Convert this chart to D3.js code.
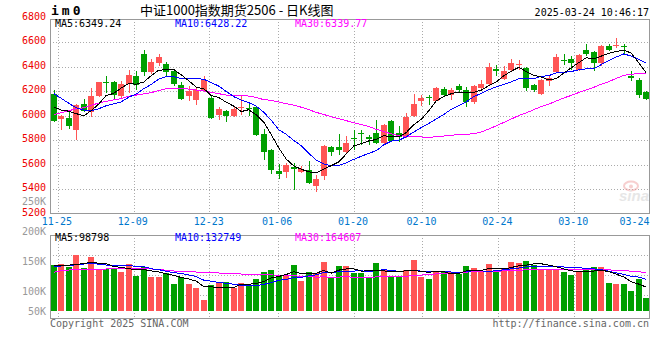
<!DOCTYPE html>
<html><head><meta charset="utf-8">
<script src="https://cdn.jsdelivr.net/npm/d3@7"></script>
<style>
html,body{margin:0;padding:0;background:#fff;}
svg{display:block;}
text{font-family:"DejaVu Sans Mono",monospace;}
</style></head><body>
<svg id="c" width="660" height="360"></svg>
<script>
// ---------------- data ----------------
const dates = [
"2024-11-22","2024-11-25","2024-11-26","2024-11-27","2024-11-28","2024-11-29",
"2024-12-02","2024-12-03","2024-12-04","2024-12-05","2024-12-06",
"2024-12-09","2024-12-10","2024-12-11","2024-12-12","2024-12-13",
"2024-12-16","2024-12-17","2024-12-18","2024-12-19","2024-12-20",
"2024-12-23","2024-12-24","2024-12-25","2024-12-26","2024-12-27",
"2024-12-30","2024-12-31","2025-01-02","2025-01-03",
"2025-01-06","2025-01-07","2025-01-08","2025-01-09","2025-01-10",
"2025-01-13","2025-01-14","2025-01-15","2025-01-16","2025-01-17",
"2025-01-20","2025-01-21","2025-01-22","2025-01-23","2025-01-24",
"2025-01-27","2025-02-05","2025-02-06","2025-02-07",
"2025-02-10","2025-02-11","2025-02-12","2025-02-13","2025-02-14",
"2025-02-17","2025-02-18","2025-02-19","2025-02-20","2025-02-21",
"2025-02-24","2025-02-25","2025-02-26","2025-02-27","2025-02-28",
"2025-03-03","2025-03-04","2025-03-05","2025-03-06","2025-03-07",
"2025-03-10","2025-03-11","2025-03-12","2025-03-13","2025-03-14",
"2025-03-17","2025-03-18","2025-03-19","2025-03-20","2025-03-21",
"2025-03-24"];

const open  = [6178,5972,5983,5885,6097,6026,6157,6276,6271,6157,6260,6325,6505,6352,6429,6423,6363,6252,6162,6129,
               6211,6143,6007,6040,5993,6059,6062,6070,5852,5721,5550,5537,5577,5537,5558,5428,5509,5740,5740,5700,
               5817,5855,5825,5857,5776,5953,5857,5825,5993,6116,6148,6121,6216,6171,6244,6211,6108,6225,6260,6382,
               6298,6374,6412,6388,6252,6179,6279,6352,6453,6461,6369,6532,6516,6429,6565,6565,6570,6325,6287,6189];
const high  = [6211,6005,6034,6097,6135,6225,6275,6325,6279,6279,6374,6361,6537,6461,6505,6440,6374,6271,6238,6233,
               6320,6157,6070,6048,6080,6157,6097,6081,5890,5727,5607,5613,5613,5591,5626,5518,5762,5749,5852,5836,
               5885,5885,5844,5966,5934,5961,5912,6021,6178,6170,6170,6233,6233,6225,6260,6233,6252,6293,6429,6415,
               6407,6461,6456,6396,6260,6298,6320,6505,6505,6483,6505,6586,6524,6578,6586,6633,6586,6361,6306,6197];
const low   = [5944,5879,5890,5798,6026,5985,6150,6184,6130,6143,6184,6211,6325,6339,6401,6325,6238,6124,6121,6089,
               6197,5972,5961,5944,5988,6007,5999,5836,5634,5526,5482,5490,5395,5531,5444,5374,5471,5672,5681,5694,
               5721,5762,5762,5770,5770,5784,5781,5817,5988,6081,6089,6116,6148,6129,6184,6070,6097,6197,6244,6325,
               6293,6352,6369,6197,6189,6170,6238,6347,6415,6369,6361,6483,6361,6407,6524,6551,6497,6279,6143,6130];
const close = [5953,5999,5912,6089,6034,6162,6271,6265,6170,6260,6333,6252,6352,6434,6478,6352,6260,6135,6197,6211,
               6293,5980,6056,5999,6056,6070,6056,5844,5700,5553,5526,5599,5564,5564,5449,5485,5754,5700,5716,5776,
               5812,5850,5808,5776,5925,5790,5825,5988,6097,6143,6140,6225,6171,6211,6211,6108,6244,6260,6396,6361,
               6361,6429,6418,6225,6211,6287,6306,6478,6448,6429,6497,6505,6429,6565,6537,6578,6560,6306,6170,6135];
const volume = [192400,197900,185300,234500,179800,226100,174300,174300,174300,164200,197900,147400,184000,143200,143200,160000,112400,140600,112400,96800,
                46300,106900,120800,120800,94300,117900,104000,134700,164200,171400,146100,146100,193700,126300,164200,157500,206300,136400,189500,189500,
                160000,157500,143200,202100,175600,147400,147400,171400,213500,143200,133500,167200,167200,162900,153300,189500,179800,164200,197900,164200,
                175600,206300,202100,210500,192400,176800,175600,171400,164200,150300,164200,171400,184000,184000,117900,112400,112400,82900,134700,53500];

// moving-average values before a full window exists
const ma5Head  = [6068,6045,6035,6015];
const ma10Head = [6180,6140,6100,6062,6045,6040,6055,6080,6095];
const ma30Head = [6007,6023,6040,6053,6064,6083,6102,6116,6127,6138,6157,6167,6176,6187,6203,6219,6222,6222,6216,6208,
                  6200,6189,6178,6167,6162,6162,6159,6148,6129];
const vma5Head  = [191000,190000,192000,195000];
const vma10Head = [185300,188200,189500,193700,196600,199600,195400,192400,189500];
const vma30Head = [161500,168600,171400,172800,174200,174200,174200,175600,175600,176800,178500,178500,176800,175600,174200,
                   170000,167200,165700,164200,162900,161500,160000,158700,157300,155900,154500,153100,151700,150300];

const priceTicks = [6800,6600,6400,6200,6000,5800,5600,5400,5200];
const volTickLabels = ["250K","200K","150K","100K","50K"];
const volTickValues = [250000,200000,150000,100000,50000];
const dateTicks = ["11-25","12-09","12-23","01-06","01-20","02-10","02-24","03-10","03-24"];

const titleText = "中证1000指数期货2506 - 日K线图";
const symbolText = "im0";
const timeText = "2025-03-24 10:46:17";
const priceLegend = [["MA5:6349.24","#000000"],["MA10:6428.22","#0000ff"],["MA30:6339.77","#ff00ff"]];
const volLegend = [["MA5:98798","#000000"],["MA10:132749","#0000ff"],["MA30:164607","#ff00ff"]];

// ---------------- layout ----------------
const L=50, R=650, pTop=19, pBot=213, vTop=235, vBot=318;
const RED="#ff5555", GREEN="#009f00", GRID="#aaaaaa", BORDER="#999999";

const svg = d3.select("#c");
svg.append("rect").attr("width",660).attr("height",360).attr("fill","#fff");

const x  = d3.scaleBand().domain(dates).range([L,R]);
const xc = d => x(d) + x.bandwidth()/2;
const gx = d3.scaleLinear().domain([0,dates.length-1]).range([L,R]);
const y  = d3.scaleLinear().domain([5200,6800]).range([213.5,17.5]);
const yv = d3.scaleLinear().domain([0,320000]).range([310.7,234.7]);
const yvLab = d3.scaleLinear().domain([50000,100000,250000]).range([311,291,201]);

function movingAvg(arr, n, head){
  return arr.map((v,i)=> i < n-1 ? head[i] : d3.mean(arr.slice(i-n+1,i+1)));
}
const ma5=movingAvg(close,5,ma5Head), ma10=movingAvg(close,10,ma10Head), ma30=movingAvg(close,30,ma30Head);
const vma5=movingAvg(volume,5,vma5Head), vma10=movingAvg(volume,10,vma10Head), vma30=movingAvg(volume,30,vma30Head);

const g = svg.append("g");

// grid
const tickIdx = dateTicks.map(t => dates.findIndex(d => d.slice(5)===t));
priceTicks.filter(v=>v>5200 && v<6800).forEach(v=>{
  const yy=Math.round(y(v))+0.5;
  g.append("line").attr("x1",L).attr("x2",R).attr("y1",yy).attr("y2",yy)
   .attr("stroke",GRID).attr("stroke-dasharray","1,2");
});
[1,2,3].forEach(k=>{
  const yy=vTop+20*k+0.5;
  g.append("line").attr("x1",L).attr("x2",R).attr("y1",yy).attr("y2",yy)
   .attr("stroke",GRID).attr("stroke-dasharray","1,2");
});
tickIdx.forEach(i=>{
  const xx=Math.round(gx(i))+0.5;
  if (xx>=R) return;
  g.append("line").attr("x1",xx).attr("x2",xx).attr("y1",pTop).attr("y2",pBot)
   .attr("stroke",GRID).attr("stroke-dasharray","1,2");
  g.append("line").attr("x1",xx).attr("x2",xx).attr("y1",vTop).attr("y2",vBot)
   .attr("stroke",GRID).attr("stroke-dasharray","1,2");
});

// watermark
const wm = g.append("g").attr("opacity",0.5);
wm.append("ellipse").attr("cx",631).attr("cy",186).attr("rx",7).attr("ry",4.5)
  .attr("fill","none").attr("stroke","#f0a0a0").attr("stroke-width",2);
wm.append("circle").attr("cx",631).attr("cy",186.5).attr("r",2).attr("fill","#f0a0a0");
wm.append("text").attr("x",649).attr("y",201).attr("text-anchor","end")
  .style("font-family","Arial, 'Liberation Sans', sans-serif").style("font-style","italic")
  .style("font-weight","bold").style("font-size","15px").attr("fill","#cfcfcf").text("sina");

// candles
const cg = g.append("g").attr("shape-rendering","crispEdges");
dates.forEach((d,i)=>{
  const up = close[i] >= open[i];
  const col = up ? RED : GREEN;
  const bx = Math.round(xc(d) - 3);
  cg.append("rect").attr("x",bx+3).attr("width",1)
    .attr("y",Math.round(y(high[i]))).attr("height",Math.max(1,Math.round(y(low[i]))-Math.round(y(high[i]))))
    .attr("fill",col);
  const t=Math.round(y(Math.max(open[i],close[i]))), b=Math.round(y(Math.min(open[i],close[i])));
  cg.append("rect").attr("x",bx).attr("width",6).attr("y",t).attr("height",Math.max(1,b-t)).attr("fill",col);
  // volume
  const vt=Math.round(yv(volume[i]));
  cg.append("rect").attr("x",bx).attr("width",6).attr("y",vt).attr("height",Math.round(yv(0))-vt).attr("fill",col);
});

// MA lines
const lineP = d3.line().x((v,i)=>xc(dates[i])).y(v=>y(v));
const lineV = d3.line().x((v,i)=>xc(dates[i])).y(v=>yv(v));
[[ma30,"#ff00ff"],[ma10,"#0000ff"],[ma5,"#000000"]].forEach(([s,c])=>{
  g.append("path").attr("d",lineP(s)).attr("fill","none").attr("stroke",c).attr("stroke-width",1).attr("shape-rendering","crispEdges");
});
[[vma30,"#ff00ff"],[vma10,"#0000ff"],[vma5,"#000000"]].forEach(([s,c])=>{
  g.append("path").attr("d",lineV(s)).attr("fill","none").attr("stroke",c).attr("stroke-width",1).attr("shape-rendering","crispEdges");
});

// borders
[[pTop,pBot],[vTop,vBot]].forEach(([t,b])=>{
  g.append("rect").attr("x",L+0.5).attr("y",t+0.5).attr("width",R-L-1).attr("height",b-t)
   .attr("fill","none").attr("stroke",BORDER);
});

// axis labels
priceTicks.forEach(v=>{
  g.append("text").attr("x",46).attr("y",y(v)+2).attr("text-anchor","end")
   .style("font-size","10px").attr("fill","#ee0000").text(v);
});
volTickValues.forEach((v,k)=>{
  g.append("text").attr("x",46).attr("y",yvLab(v)+3.6).attr("text-anchor","end")
   .style("font-size","10px").attr("fill","#999999").text(volTickLabels[k]);
});
tickIdx.forEach((i,k)=>{
  const last = k===tickIdx.length-1;
  g.append("text").attr("x", last ? 649.5 : gx(i)-0.7).attr("y",225.3)
   .attr("text-anchor", last ? "end" : "middle")
   .style("font-size","10px").attr("fill","#0077cc").text(dateTicks[k]);
});

// header
g.append("text").attr("x",51).attr("y",15).style("font-size","13px").style("font-weight","bold")
 .style("letter-spacing","3px").attr("fill","#000").text(symbolText);
g.append("text").attr("x",140).attr("y",15).style("font-family","'Noto Sans CJK SC',sans-serif")
 .style("font-size","13px").attr("fill","#000").text(titleText);
g.append("text").attr("x",649).attr("y",16).attr("text-anchor","end").style("font-size","10px")
 .attr("fill","#000").text(timeText);
const legX=[55,175,295];
priceLegend.forEach(([t,c],k)=>{
  g.append("text").attr("x",legX[k]).attr("y",27).style("font-size","10px").attr("fill",c).text(t);
});
volLegend.forEach(([t,c],k)=>{
  g.append("text").attr("x",legX[k]).attr("y",241).style("font-size","10px").attr("fill",c).text(t);
});
g.append("text").attr("x",50).attr("y",327).style("font-size","10px").attr("fill","#666").text("Copyright 2025 SINA.COM");
g.append("text").attr("x",649).attr("y",327).attr("text-anchor","end").style("font-size","10px").attr("fill","#666").text("http://finance.sina.com.cn");
</script>
</body></html>
